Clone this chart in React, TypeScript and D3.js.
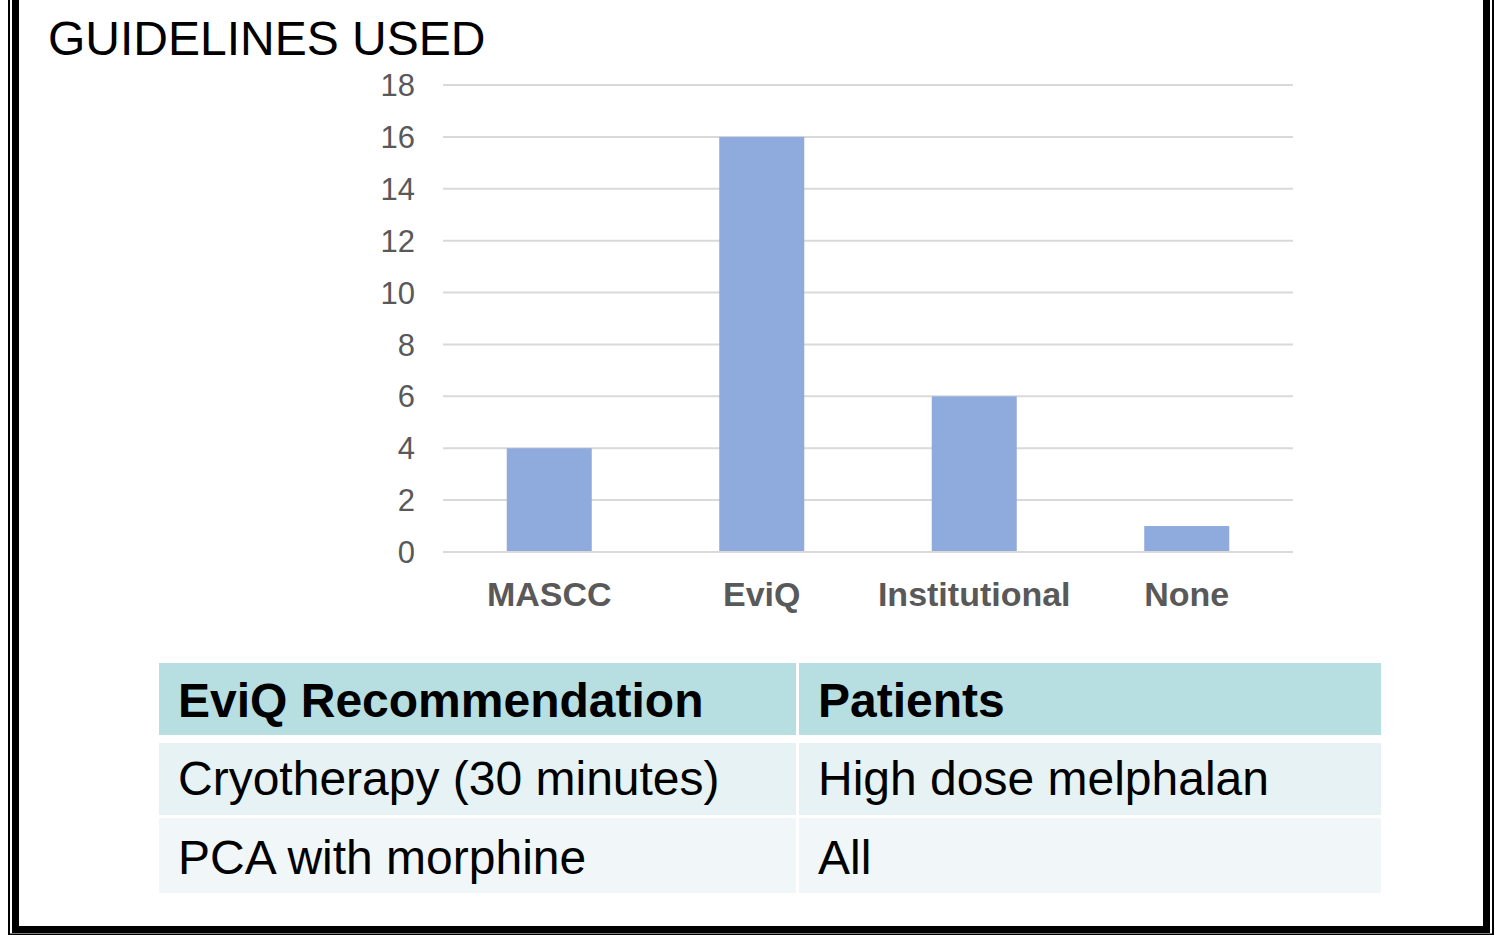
import React from "react";
import * as d3 from "d3";

const categories = ["MASCC", "EviQ", "Institutional", "None"];
const values = [4, 16, 6, 1];
const yTicks = [0, 2, 4, 6, 8, 10, 12, 14, 16, 18];
const tableHeader = ["EviQ Recommendation", "Patients"];
const tableCol1 = ["Cryotherapy (30 minutes)", "PCA with morphine"];
const tableCol2 = ["High dose melphalan", "All"];

const W = 1507;
const H = 935;

export default function App() {
  const x = d3.scaleBand<string>().domain(categories).range([443, 1293]).paddingInner(0.6).paddingOuter(0.3);
  const y = d3.scaleLinear().domain([0, 18]).range([552, 85]);
  const font = "'Liberation Sans', Arial, sans-serif";

  const colX = [159, 799];
  const colW = [637, 582];
  const rowY = [663, 743, 818];
  const rowH = [72, 72, 75];
  const rowFill = ["#B7DEE1", "#E6F2F3", "#F1F7F9"];
  const rows = [tableHeader, ...tableCol1.map((c, i) => [c, tableCol2[i]])];
  const baselines = [717, 795, 874];

  return (
    <svg width={W} height={H} style={{ position: "absolute", left: 0, top: 0, background: "#fff" }} fontFamily={font}>
      <rect x={0} y={0} width={W} height={H} fill="#fff" />
      {/* frame */}
      <path d={`M9,0 V934.5 H1493 V0`} fill="none" stroke="#000" strokeWidth={2} />
      <path d={`M15.5,0 V929.5 H1486.5 V0`} fill="none" stroke="#000" strokeWidth={7} />

      <text x={48} y={55} fontSize={48} fill="#000">GUIDELINES USED</text>

      {/* gridlines */}
      {yTicks.map((t) => (
        <g key={t}>
          <line x1={443} x2={1293} y1={y(t)} y2={y(t)} stroke="#D9D9D9" strokeWidth={2} />
          <text x={415} y={y(t)} dy="0.36em" textAnchor="end" fontSize={31} fill="#595959">{t}</text>
        </g>
      ))}

      {/* bars */}
      {categories.map((c, i) => (
        <rect key={c} x={x(c)} y={y(values[i])} width={x.bandwidth()} height={y(0) - y(values[i]) - 1} fill="#8FAADC" />
      ))}

      {categories.map((c) => (
        <text key={c} x={(x(c) as number) + x.bandwidth() / 2} y={606} textAnchor="middle" fontSize={34} fontWeight="bold" fill="#595959">{c}</text>
      ))}

      {/* table */}
      {rows.map((r, ri) => (
        <g key={ri}>
          {r.map((cell, ci) => (
            <g key={ci}>
              <rect x={colX[ci]} y={rowY[ri]} width={colW[ci]} height={rowH[ri]} fill={rowFill[ri]} />
              <text x={colX[ci] + 19} y={baselines[ri]} fontSize={48} fontWeight={ri === 0 ? "bold" : "normal"} fill="#000">{cell}</text>
            </g>
          ))}
        </g>
      ))}
    </svg>
  );
}
